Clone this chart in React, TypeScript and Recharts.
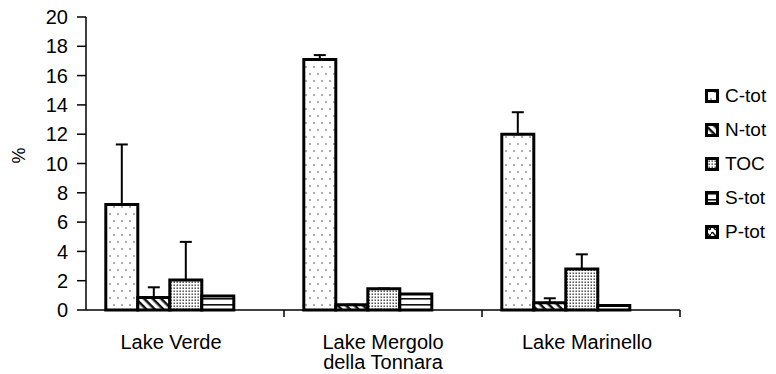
import React from 'react';
import { BarChart, Bar, XAxis, YAxis, ErrorBar, Legend } from 'recharts';

const lakes = ['Lake Verde', 'Lake Mergolo della Tonnara', 'Lake Marinello'];
const lakeLabelLines = [['Lake Verde'], ['Lake Mergolo', 'della Tonnara'], ['Lake Marinello']];
const seriesNames = ['C-tot', 'N-tot', 'TOC', 'S-tot', 'P-tot'];
const cTot = [7.2, 17.1, 12.0];
const cTotErr = [4.1, 0.3, 1.5];
const nTot = [0.85, 0.35, 0.5];
const nTotErr = [0.7, 0, 0.3];
const toc = [2.05, 1.45, 2.8];
const tocErr = [2.6, 0, 1.0];
const sTot = [0.95, 1.1, 0.3];
const pTot = [0, 0, 0];
const yTicks = [0, 2, 4, 6, 8, 10, 12, 14, 16, 18, 20];

const patternIds = ['pat-ctot', 'pat-ntot', 'pat-toc', 'pat-stot', 'pat-ptot'];

const data = lakes.map((lake, i) => ({
  lake,
  cTot: cTot[i],
  nTot: nTot[i],
  toc: toc[i],
  sTot: sTot[i],
  pTot: pTot[i],
  cTotErr: [0, cTotErr[i]],
  nTotErr: [0, nTotErr[i]],
  tocErr: [0, tocErr[i]],
}));

const FONT = '"Liberation Sans", Arial, sans-serif';

function Patterns() {
  return (
    <defs>
      <pattern id="pat-ctot" width="8" height="14" patternUnits="userSpaceOnUse">
        <rect width="8" height="14" fill="#fff" />
        <circle cx="2" cy="3" r="0.8" fill="#444" />
        <circle cx="6" cy="10" r="0.8" fill="#444" />
      </pattern>
      <pattern id="pat-ntot" width="6" height="6" patternUnits="userSpaceOnUse" patternTransform="rotate(45)">
        <rect width="6" height="6" fill="#fff" />
        <rect width="6" height="2.5" fill="#111" />
      </pattern>
      <pattern id="pat-toc" width="3" height="3" patternUnits="userSpaceOnUse">
        <rect width="3" height="3" fill="#fff" />
        <rect x="0.5" y="0.5" width="1.4" height="1.4" fill="#333" />
      </pattern>
      <pattern id="pat-stot" width="6" height="6" patternUnits="userSpaceOnUse">
        <rect width="6" height="6" fill="#fff" />
        <rect y="2" width="6" height="1.6" fill="#111" />
      </pattern>
      <pattern id="pat-ptot" width="6" height="6" patternUnits="userSpaceOnUse">
        <rect width="6" height="6" fill="#fff" />
        <path d="M0 3 Q1.5 0 3 3 T6 3" stroke="#111" strokeWidth="1.5" fill="none" />
      </pattern>
    </defs>
  );
}

// small horizontal nudges so the labels sit where the original puts them
const labelNudge = [-14, 0, 6];

function LakeTick(props: any) {
  const { x, y, payload, index } = props;
  const lines = lakeLabelLines[index] || [payload.value];
  const half = 99;
  return (
    <g>
      <line x1={x + half} y1={y - 8} x2={x + half} y2={y - 1} stroke="#000" strokeWidth={1.5} />
      {lines.map((line: string, i: number) => (
        <text
          key={i}
          x={x + (labelNudge[index] || 0)}
          y={y + 31 + i * 20}
          textAnchor="middle"
          fontSize={20}
          fill="#000"
          fontFamily={FONT}
        >
          {line}
        </text>
      ))}
    </g>
  );
}

function LegendContent() {
  return (
    <div style={{ fontFamily: FONT, fontSize: 19, color: '#000', whiteSpace: 'nowrap' }}>
      {seriesNames.map((name, i) => (
        <div key={name} style={{ display: 'flex', alignItems: 'center', height: 34 }}>
          <svg width={14} height={14} style={{ marginRight: 6 }}>
            <rect x={1.5} y={1.5} width={11} height={11} fill={`url(#${patternIds[i]})`} stroke="#000" strokeWidth={3} />
          </svg>
          <span>{name}</span>
        </div>
      ))}
    </div>
  );
}

export default function App() {
  const barProps = { stroke: '#000', strokeWidth: 3, isAnimationActive: false };
  return (
    <div style={{ fontFamily: FONT, width: 760, height: 366 }}>
      <BarChart
        width={760}
        height={366}
        data={data}
        margin={{ top: 9, right: 88, bottom: 14, left: 0 }}
        barCategoryGap="10%"
        barGap={0}
      >
        <Patterns />
        <XAxis
          dataKey="lake"
          stroke="#000"
          strokeWidth={1.5}
          tickLine={false}
          tick={<LakeTick />}
          interval={0}
          height={50}
        />
        <XAxis xAxisId="top" orientation="top" dataKey="lake" tick={false} tickLine={false} height={0} stroke="#000" strokeWidth={1.5} />
        <YAxis
          domain={[0, 20]}
          ticks={yTicks}
          interval={0}
          width={78}
          stroke="#000"
          strokeWidth={1.5}
          tickSize={9}
          tickMargin={9}
          tick={{ fill: '#000', fontSize: 20, fontFamily: FONT }}
          label={{ value: '%', angle: -90, position: 'insideLeft', offset: 11, fill: '#000', fontSize: 18 }}
        />
        <YAxis yAxisId="right" orientation="right" domain={[0, 20]} tick={false} tickLine={false} width={0} stroke="#000" strokeWidth={1.5} />
        <Legend
          layout="vertical"
          align="center"
          verticalAlign="middle"
          content={<LegendContent />}
          wrapperStyle={{ left: 697, top: 71, width: 63 }}
        />
        <Bar dataKey="cTot" name="C-tot" fill="url(#pat-ctot)" {...barProps}>
          <ErrorBar dataKey="cTotErr" width={6} stroke="#000" strokeWidth={2} direction="y" />
        </Bar>
        <Bar dataKey="nTot" name="N-tot" fill="url(#pat-ntot)" {...barProps}>
          <ErrorBar dataKey="nTotErr" width={6} stroke="#000" strokeWidth={2} direction="y" />
        </Bar>
        <Bar dataKey="toc" name="TOC" fill="url(#pat-toc)" {...barProps}>
          <ErrorBar dataKey="tocErr" width={6} stroke="#000" strokeWidth={2} direction="y" />
        </Bar>
        <Bar dataKey="sTot" name="S-tot" fill="url(#pat-stot)" {...barProps} />
        <Bar dataKey="pTot" name="P-tot" fill="url(#pat-ptot)" {...barProps} />
      </BarChart>
    </div>
  );
}
